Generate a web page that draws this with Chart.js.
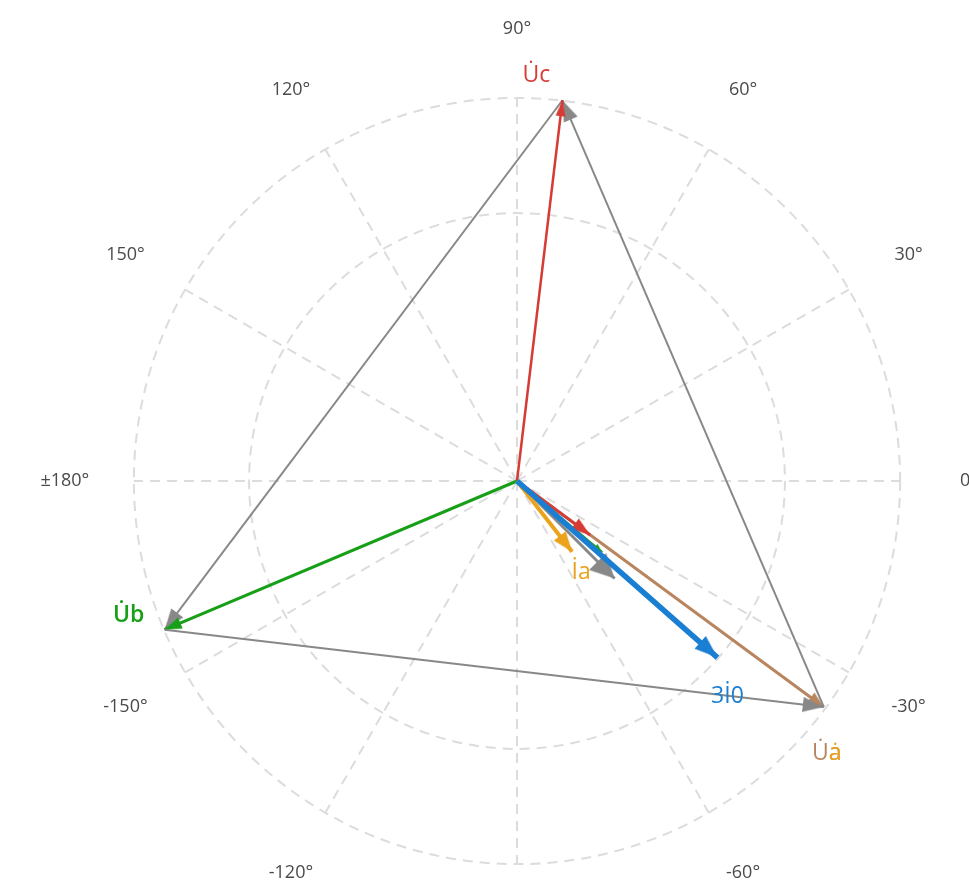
<!DOCTYPE html>
<html>
<head>
<meta charset="utf-8">
<script src="https://cdn.jsdelivr.net/npm/chart.js@4"></script>
<style>
  html, body { margin: 0; padding: 0; background: #fff; overflow: hidden; }
  #wrap { position: absolute; left: 0; top: 0; width: 1034px; height: 962px; }
</style>
</head>
<body>
<div id="wrap"><canvas id="phasor" width="1034" height="962"></canvas></div>
<script>
/* angle axis (degrees) */
const angleTicks  = [90, 60, 30, 0, -30, -60, -90, -120, -150, 180, 150, 120];
const angleLabels = ['90°', '60°', '30°', '0°', '-30°', '-60°', '-90°', '-120°', '-150°', '±180°', '150°', '120°'];

/* radius axis */
const radiusRings = [40];
const radiusMax = 57.2;

/* phase voltages */
const voltNames = ['U\u0307a', 'U\u0307b', 'U\u0307c'];
const voltMag   = [56.9, 57.1, 57.3];
const voltAng   = [-36.4, -157.1, 83.2];

/* line voltages : [from, to] as voltage index */
const lineFrom = [1, 2, 0];
const lineTo   = [0, 1, 2];

/* currents & residuals */
const curNames = ['3I\u03070', 'I\u0307a', 'I\u0307c', '3U\u03070', 'I\u0307b'];
const curMag   = [39.9, 13.4, 13.6, 20.6, 16.6];
const curAng   = [-41.4, -52.1, -36.5, -45.0, -40.0];

/* ---- styles ---- */
const voltStyle = [
  { color: '#b8855e', width: 3,   head: [16, 12], order: 10, label: [3, 47], tail: '#eba21c' },
  { color: '#17a017', width: 3,   head: [17, 12], order: 6,  label: [-36, -14], weight: 600 },
  { color: '#d63b35', width: 2.5, head: [16, 10], order: 7,  label: [-26, -25] }
];
const lineStyle = [
  { color: '#888888', width: 2, head: [21, 15], order: 5 },
  { color: '#888888', width: 2, head: [21, 15], order: 8 },
  { color: '#888888', width: 2, head: [21, 15], order: 9 }
];
const curStyle = [
  { color: '#1a7fd2', width: 5.5, head: [23, 17], order: 1, label: [10, 39] },
  { color: '#eba21c', width: 4,   head: [20, 15], order: 2, label: [9, 21] },
  { color: '#d63b35', width: 3,   head: [19, 13], order: 3 },
  { color: '#888888', width: 3,   head: [24, 24], order: 4 },
  { color: '#17a017', width: 2.5, head: [9, 7],   order: 4.5 }
];

const outerPx = 388;          // pixel radius of outer ring
const centerPx = [517, 481];  // centre in canvas
const pxPerUnit = outerPx / radiusMax;

function polar(mag, deg) {
  const r = deg * Math.PI / 180;
  return { x: mag * Math.cos(r), y: mag * Math.sin(r) };
}

/* arrow head image, tip at image centre, pointing up */
function makeArrow(color, len, wid) {
  const c = document.createElement('canvas');
  c.width = wid;
  c.height = len * 2;
  const g = c.getContext('2d');
  g.fillStyle = color;
  g.beginPath();
  g.moveTo(wid / 2, len);
  g.lineTo(wid, len * 2);
  g.lineTo(0, len * 2);
  g.closePath();
  g.fill();
  return c;
}

function vectorDataset(p0, p1, st, tag) {
  const rot = 90 - Math.atan2(p1.y - p0.y, p1.x - p0.x) * 180 / Math.PI;
  return {
    data: [p0, p1],
    showLine: true,
    borderColor: st.color,
    backgroundColor: st.color,
    borderWidth: st.width,
    borderCapStyle: 'butt',
    pointRadius: [0, 1],
    pointHoverRadius: [0, 1],
    pointStyle: ['circle', makeArrow(st.color, st.head[0], st.head[1])],
    pointRotation: [0, rot],
    order: st.order,
    clip: false,
    tag: tag
  };
}

const origin = { x: 0, y: 0 };
const voltPts = voltNames.map((n, i) => polar(voltMag[i], voltAng[i]));
const datasets = [];

voltNames.forEach((n, i) => {
  const st = voltStyle[i];
  datasets.push(vectorDataset(origin, voltPts[i], st,
    { text: n, color: st.color, dx: st.label[0], dy: st.label[1], tail: st.tail, weight: st.weight }));
});
lineFrom.forEach((f, i) => {
  datasets.push(vectorDataset(voltPts[f], voltPts[lineTo[i]], lineStyle[i], null));
});
curNames.forEach((n, i) => {
  const st = curStyle[i];
  const tag = st.label ? { text: n, color: st.color, dx: st.label[0], dy: st.label[1] } : null;
  datasets.push(vectorDataset(origin, polar(curMag[i], curAng[i]), st, tag));
});

/* polar grid + angle labels */
const polarGrid = {
  id: 'polarGrid',
  beforeDatasetsDraw(chart) {
    const { ctx, scales: { x, y } } = chart;
    const cx = x.getPixelForValue(0), cy = y.getPixelForValue(0);
    const k = x.getPixelForValue(1) - cx;
    ctx.save();
    ctx.strokeStyle = '#dcdcdc';
    ctx.lineWidth = 2;
    ctx.setLineDash([10, 7]);
    radiusRings.concat([radiusMax]).forEach(v => {
      ctx.beginPath();
      ctx.arc(cx, cy, v * k, 0, Math.PI * 2);
      ctx.stroke();
    });
    angleTicks.forEach(a => {
      const p = polar(radiusMax, a);
      ctx.beginPath();
      ctx.moveTo(cx, cy);
      ctx.lineTo(x.getPixelForValue(p.x), y.getPixelForValue(p.y));
      ctx.stroke();
    });
    ctx.setLineDash([]);
    ctx.fillStyle = '#4a4a4a';
    ctx.font = '18px "Open Sans", "Noto Sans", sans-serif';
    ctx.textAlign = 'center';
    ctx.textBaseline = 'middle';
    const lr = radiusMax * k + 69;
    angleTicks.forEach((a, i) => {
      const r = a * Math.PI / 180;
      ctx.fillText(angleLabels[i], cx + lr * Math.cos(r), cy - lr * Math.sin(r));
    });
    ctx.restore();
  }
};

/* vector name labels */
const vectorLabels = {
  id: 'vectorLabels',
  afterDatasetsDraw(chart) {
    const ctx = chart.ctx;
    ctx.save();
    ctx.textBaseline = 'middle';
    chart.data.datasets.forEach((ds, i) => {
      const t = ds.tag;
      if (!t) return;
      ctx.font = (t.weight || 400) + ' 23px "Open Sans", "Noto Sans", sans-serif';
      const pt = chart.getDatasetMeta(i).data[1];
      const lx = pt.x + t.dx, ly = pt.y + t.dy;
      ctx.textAlign = 'center';
      ctx.fillStyle = t.color;
      ctx.fillText(t.text, lx, ly);
      if (t.tail) {
        // last letter drawn over in a second colour
        const w = ctx.measureText(t.text).width;
        const wh = ctx.measureText(t.text.slice(0, -1)).width;
        ctx.textAlign = 'left';
        ctx.fillStyle = t.tail;
        ctx.fillText(t.text.slice(-1) + '\u0307', lx - w / 2 + wh, ly);
      }
    });
    ctx.restore();
  }
};

const xr = centerPx[0] / pxPerUnit;
const yr = centerPx[1] / pxPerUnit;

new Chart(document.getElementById('phasor'), {
  type: 'scatter',
  data: { datasets: datasets },
  options: {
    responsive: false,
    animation: false,
    events: [],
    layout: { padding: 0 },
    plugins: { legend: { display: false }, tooltip: { enabled: false } },
    scales: {
      x: { type: 'linear', display: false, min: -xr, max: xr },
      y: { type: 'linear', display: false, min: -yr, max: yr }
    }
  },
  plugins: [polarGrid, vectorLabels]
});
</script>
</body>
</html>
